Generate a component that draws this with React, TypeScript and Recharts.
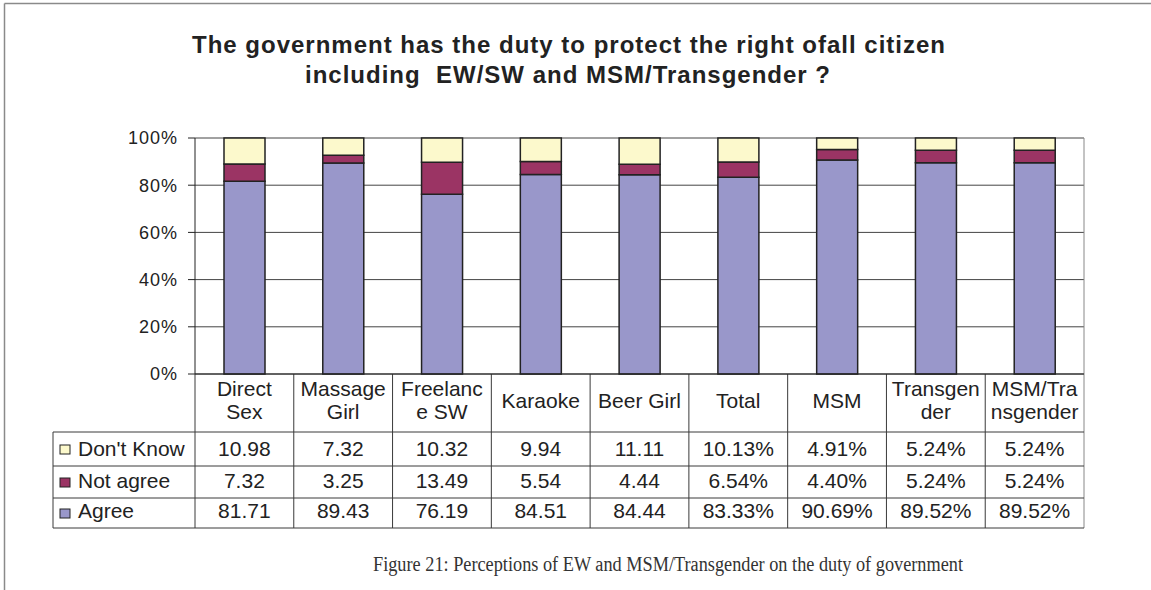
import { BarChart, Bar, XAxis, YAxis, CartesianGrid, Customized, usePlotArea } from "recharts";

const categories = [
  "Direct Sex",
  "Massage Girl",
  "Freelance SW",
  "Karaoke",
  "Beer Girl",
  "Total",
  "MSM",
  "Transgender",
  "MSM/Transgender",
];
// header labels as they wrap inside the table cells
const headerLines = [
  ["Direct", "Sex"],
  ["Massage", "Girl"],
  ["Freelanc", "e SW"],
  ["Karaoke"],
  ["Beer Girl"],
  ["Total"],
  ["MSM"],
  ["Transgen", "der"],
  ["MSM/Tra", "nsgender"],
];
const showPercent = [false, false, false, false, false, true, true, true, true];

const agree = [81.71, 89.43, 76.19, 84.51, 84.44, 83.33, 90.69, 89.52, 89.52];
const notAgree = [7.32, 3.25, 13.49, 5.54, 4.44, 6.54, 4.4, 5.24, 5.24];
const dontKnow = [10.98, 7.32, 10.32, 9.94, 11.11, 10.13, 4.91, 5.24, 5.24];

const yTicks = [0, 0.2, 0.4, 0.6, 0.8, 1];

const series = [
  { key: "agree", label: "Agree", color: "#9997CA", values: agree },
  { key: "notAgree", label: "Not agree", color: "#9B3464", values: notAgree },
  { key: "dontKnow", label: "Don't Know", color: "#FCF9CC", values: dontKnow },
];
// table rows are listed top-down
const tableRows = [series[2], series[1], series[0]];

const data = categories.map((name, i) => ({
  name,
  agree: agree[i],
  notAgree: notAgree[i],
  dontKnow: dontKnow[i],
}));

const W = 1151;
const H = 590;
const FONT = "'Liberation Sans', Arial, sans-serif";
const LINE = "#3a3a3a";
const HEADER_H = 58;
const ROW_H = [34, 32, 30];
const TABLE_FS = 21;

function fmt(v: number, i: number) {
  return v.toFixed(2) + (showPercent[i] ? "%" : "");
}

function HeaderTick(props: any) {
  const { x, y, index } = props;
  const lines = headerLines[index] || [];
  const baselines = lines.length === 2 ? [22, 45] : [34];
  let rowTop = y + HEADER_H;
  return (
    <g>
      {lines.map((t, k) => (
        <text
          key={k}
          x={x}
          y={y + baselines[k]}
          textAnchor="middle"
          fontFamily={FONT}
          fontSize={TABLE_FS}
          fill="#222"
        >
          {t}
        </text>
      ))}
      {tableRows.map((s, r) => {
        const top = rowTop;
        rowTop += ROW_H[r];
        return (
          <text
            key={s.key}
            x={x}
            y={top + ROW_H[r] - 10}
            textAnchor="middle"
            fontFamily={FONT}
            fontSize={TABLE_FS}
            fill="#222"
          >
            {fmt(s.values[index], index)}
          </text>
        );
      })}
    </g>
  );
}

function Frame() {
  const plot = usePlotArea();
  if (!plot) return null;
  const left = plot.x;
  const right = plot.x + plot.width;
  const top = plot.y;
  const bottom = plot.y + plot.height;
  const colW = plot.width / categories.length;
  const headerBottom = bottom + HEADER_H;
  const rowLines = [headerBottom];
  ROW_H.forEach((h) => rowLines.push(rowLines[rowLines.length - 1] + h));
  const tableBottom = rowLines[rowLines.length - 1];
  const tableLeft = 53;

  return (
    <g>
      {/* outer frame */}
      <line x1={4.5} y1={3.5} x2={W} y2={3.5} stroke="#8a8a8a" strokeWidth={1.5} />
      <line x1={4.5} y1={3.5} x2={4.5} y2={H} stroke="#8a8a8a" strokeWidth={1.5} />

      <text
        x={569}
        y={53}
        textAnchor="middle"
        fontFamily={FONT}
        fontWeight="bold"
        fontSize={24}
        letterSpacing={1}
        fill="#222"
      >
        The government has the duty to protect the right ofall citizen
      </text>
      <text
        x={568}
        y={83}
        textAnchor="middle"
        fontFamily={FONT}
        fontWeight="bold"
        fontSize={24}
        letterSpacing={1}
        fill="#222"
        style={{ whiteSpace: "pre" }}
      >
        including  EW/SW and MSM/Transgender ?
      </text>

      {/* right border of plot and table */}
      <line x1={right} y1={top} x2={right} y2={tableBottom} stroke="#888" />

      {/* table column lines */}
      {categories.map((_, i) => (
        <line
          key={i}
          x1={left + colW * i}
          y1={bottom}
          x2={left + colW * i}
          y2={tableBottom}
          stroke={LINE}
        />
      ))}
      {rowLines.map((yy, k) => (
        <line key={k} x1={tableLeft} y1={yy} x2={right} y2={yy} stroke={LINE} />
      ))}
      <line x1={tableLeft} y1={headerBottom} x2={tableLeft} y2={tableBottom} stroke={LINE} />

      {/* legend keys in first column */}
      {tableRows.map((s, r) => {
        const rowTop = rowLines[r];
        const mid = rowTop + ROW_H[r] / 2;
        return (
          <g key={s.key}>
            <rect x={60} y={mid - 4} width={10} height={9} fill={s.color} stroke="#222" strokeWidth={1} />
            <text x={78} y={rowTop + ROW_H[r] - 10} fontFamily={FONT} fontSize={TABLE_FS} fill="#222">
              {s.label}
            </text>
          </g>
        );
      })}

      <text
        x={668}
        y={571}
        textAnchor="middle"
        fontFamily="'Liberation Serif', 'DejaVu Serif', serif"
        fontSize={20}
        fill="#333"
        textLength={590}
        lengthAdjust="spacingAndGlyphs"
      >
        Figure 21: Perceptions of EW and MSM/Transgender on the duty of government
      </text>
    </g>
  );
}

export default function App() {
  return (
    <div style={{ position: "absolute", left: 0, top: 0, width: W, height: H, background: "#fff" }}>
      <BarChart
        width={W}
        height={H}
        data={data}
        stackOffset="expand"
        margin={{ top: 138, right: 67, bottom: 62, left: 135 }}
      >
        <CartesianGrid vertical={false} stroke="#444" />
        <YAxis
          width={60}
          domain={[0, 1]}
          ticks={yTicks}
          tickFormatter={(v: number) => `${Math.round(v * 100)}%`}
          tick={{ fontSize: 18, fill: "#222", fontFamily: FONT, letterSpacing: 1 }}
          tickSize={7}
          tickMargin={10}
          tickLine={{ stroke: "#222" }}
          axisLine={{ stroke: "#222" }}
        />
        <XAxis
          dataKey="name"
          height={HEADER_H + ROW_H[0] + ROW_H[1] + ROW_H[2]}
          interval={0}
          tickSize={0}
          tickMargin={0}
          axisLine={{ stroke: "#222" }}
          tickLine={false}
          tick={<HeaderTick />}
        />
        {series.map((s) => (
          <Bar
            key={s.key}
            dataKey={s.key}
            stackId="a"
            fill={s.color}
            stroke="#222"
            strokeWidth={1.5}
            barSize={41}
            isAnimationActive={false}
          />
        ))}
        <Customized component={<Frame />} />
      </BarChart>
    </div>
  );
}
